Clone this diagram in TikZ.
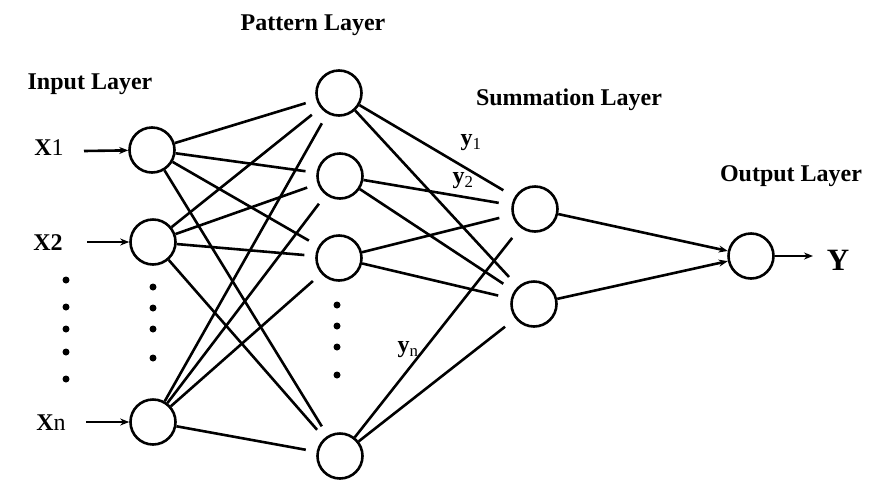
\documentclass[tikz,border=0pt]{standalone}
\usepackage{fontspec}
\setmainfont{Liberation Serif}
\usetikzlibrary{arrows.meta}
\begin{document}
\begin{tikzpicture}[x=1pt,y=-1pt,
  neuron/.style={circle,draw,line width=2.6pt,minimum size=45pt,inner sep=0pt},
  conn/.style={line width=2.6pt,shorten >=11pt},
  arr/.style={line width=2.6pt,-{Stealth[length=9pt,width=7pt]}},
  lbl/.style={font=\fontsize{24}{26}\selectfont\bfseries},
  xl/.style={font=\fontsize{24}{26}\selectfont},
  dotm/.style={circle,fill,inner sep=0pt,minimum size=7pt}]
\useasboundingbox (0,0) rectangle (896,488);
% input nodes
\node[neuron] (i1) at (152,150) {};
\node[neuron] (i2) at (153,242) {};
\node[neuron] (i3) at (153,422) {};
% pattern nodes
\node[neuron] (p1) at (339,93) {};
\node[neuron] (p2) at (340,176) {};
\node[neuron] (p3) at (339,258) {};
\node[neuron] (p4) at (340,456) {};
% summation nodes
\node[neuron] (s1) at (535,209) {};
\node[neuron] (s2) at (534,304) {};
% output
\node[neuron] (o) at (751,256) {};
% labels
\node[lbl] (tin) at (90,84) {Input Layer};
\node[lbl] (tpat) at (313,25) {Pattern Layer};
\node[lbl] (tsum) at (569,100) {Summation Layer};
\node[lbl] (tout) at (791,176) {Output Layer};
% input labels
\node[xl] (x1) at (49,148) {\textbf{X}1};
\node[xl] (x2) at (48,243) {\textbf{X2}};
\node[xl] (xn) at (51,423) {\textbf{X}n};
\coordinate (a1) at (84,151);
\coordinate (a2) at (87,242);
\coordinate (a3) at (86,422);
\draw[arr] (a1) -- (i1);
\draw[arr] (a2) -- (i2);
\draw[arr] (a3) -- (i3);
% output label
\node[font=\fontsize{31}{33}\selectfont\bfseries] (y) at (838,260) {Y};
\coordinate (ay) at (813,256);
\draw[arr] (o) -- (ay);
% input -> pattern
\foreach \a in {i1,i2,i3}{
  \foreach \b in {p1,p2,p3,p4}{
    \draw[conn] (\a) -- (\b);
  }
}
% pattern -> summation
\foreach \a in {p1,p2,p3,p4}{
  \foreach \b in {s1,s2}{
    \draw[conn,shorten >=13pt] (\a) -- (\b);
  }
}
% summation -> output
\draw[arr] (s1) -- (o);
\draw[arr] (s2) -- (o);
% y labels
\node[font=\fontsize{24}{26}\selectfont\bfseries] (y1) at (471,143) {y\textsubscript{\normalfont 1}};
\node[font=\fontsize{24}{26}\selectfont\bfseries] (y2) at (463,181) {y\textsubscript{\normalfont 2}};
\node[font=\fontsize{24}{26}\selectfont\bfseries] (yn) at (408,350) {y\textsubscript{\normalfont n}};
% dots
\foreach \yy [count=\k] in {280,307,329,352,379}{
  \node[dotm] (dl\k) at (66,\yy) {};
}
\foreach \yy [count=\k] in {287,308,329,358}{
  \node[dotm] (di\k) at (153,\yy) {};
}
\foreach \yy [count=\k] in {305,326,347,375}{
  \node[dotm] (dp\k) at (337,\yy) {};
}
\end{tikzpicture}
\end{document}
